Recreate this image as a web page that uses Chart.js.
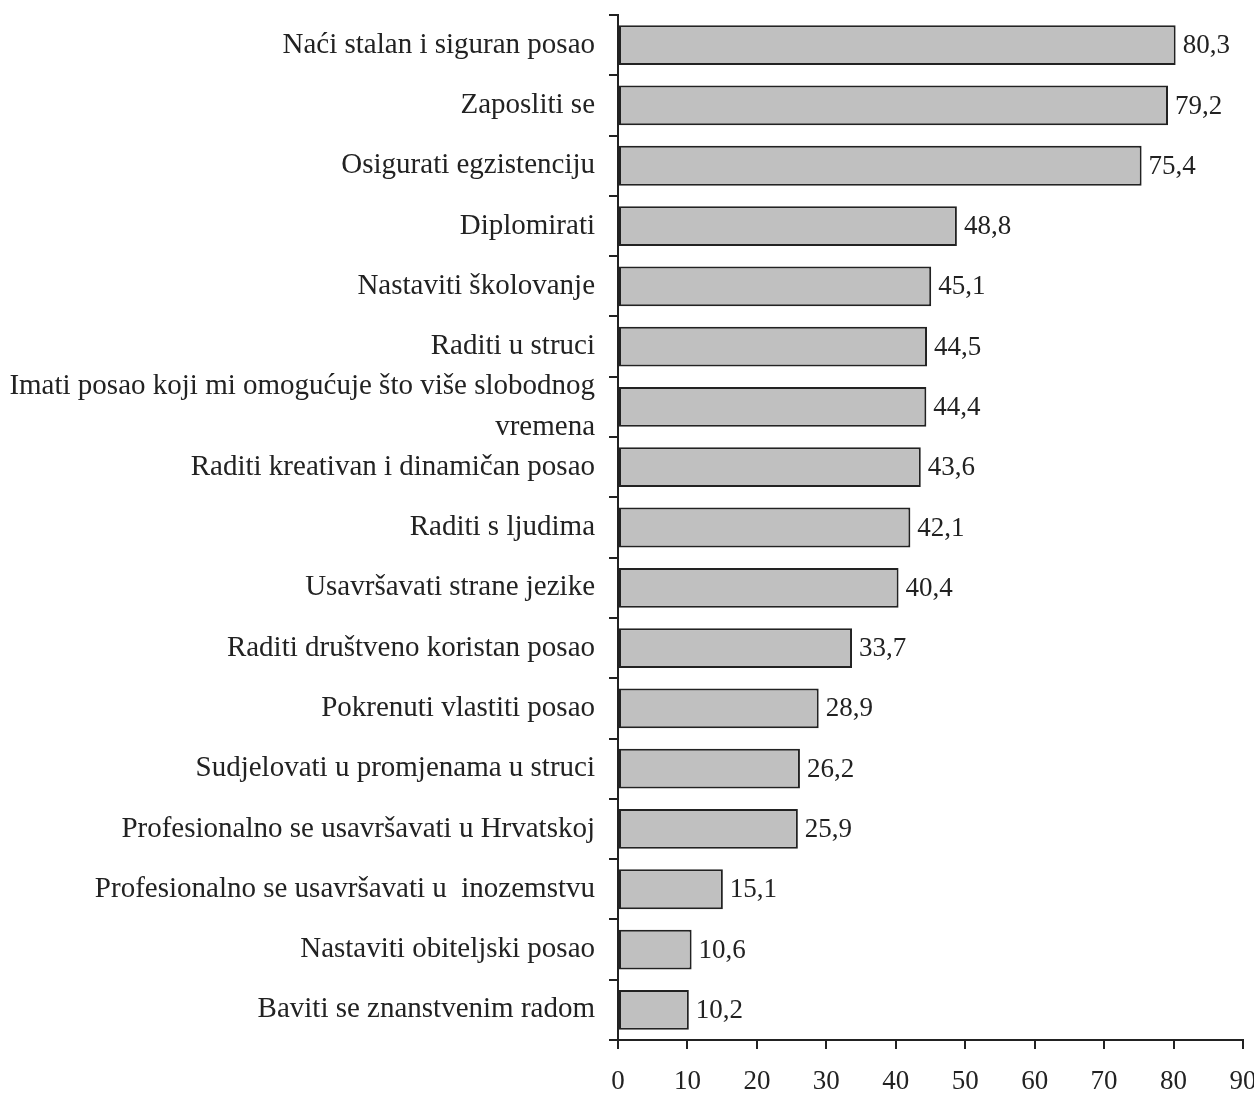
<!DOCTYPE html>
<html>
<head>
<meta charset="utf-8">
<script src="https://cdn.jsdelivr.net/npm/chart.js@4.4.1/dist/chart.umd.min.js"></script>
<style>
  html, body { margin: 0; padding: 0; background: #fff; overflow: hidden; }
  #wrap { width: 1264px; height: 1094px; }
</style>
</head>
<body>
<div id="wrap"><canvas id="barChart" width="1264" height="1094"></canvas></div>
<script>
const categories = [
    "Naći stalan i siguran posao",
    "Zaposliti se",
    "Osigurati egzistenciju",
    "Diplomirati",
    "Nastaviti školovanje",
    "Raditi u struci",
    ["Imati posao koji mi omogućuje što više slobodnog", "vremena"],
    "Raditi kreativan i dinamičan posao",
    "Raditi s ljudima",
    "Usavršavati strane jezike",
    "Raditi društveno koristan posao",
    "Pokrenuti vlastiti posao",
    "Sudjelovati u promjenama u struci",
    "Profesionalno se usavršavati u Hrvatskoj",
    "Profesionalno se usavršavati u  inozemstvu",
    "Nastaviti obiteljski posao",
    "Baviti se znanstvenim radom"
];
const values = [80.3, 79.2, 75.4, 48.8, 45.1, 44.5, 44.4, 43.6, 42.1, 40.4, 33.7, 28.9, 26.2, 25.9, 15.1, 10.6, 10.2];
const xTicks = [0, 10, 20, 30, 40, 50, 60, 70, 80, 90];

const textColor = '#222';
const serif = "'Liberation Serif', 'Times New Roman', serif";

// value labels right of each bar, with comma decimals
const valueLabels = {
    id: 'valueLabels',
    afterDatasetsDraw(chart) {
        const ctx = chart.ctx;
        const meta = chart.getDatasetMeta(0);
        ctx.save();
        ctx.font = "27px " + serif;
        ctx.fillStyle = textColor;
        ctx.textAlign = 'left';
        ctx.textBaseline = 'middle';
        meta.data.forEach(function(bar, i) {
            ctx.fillText(values[i].toFixed(1).replace('.', ','), bar.x + 7, bar.y + 1);
        });
        ctx.restore();
    }
};

var ctx = document.getElementById('barChart').getContext('2d');
var barChart = new Chart(ctx, {
    type: 'bar',
    data: {
        labels: categories,
        datasets: [{
            data: values,
            backgroundColor: '#c0c0c0',
            borderColor: '#222',
            borderWidth: 2,
            borderSkipped: false,
            barPercentage: 0.66,
            categoryPercentage: 1
        }]
    },
    options: {
        indexAxis: 'y',
        responsive: false,
        devicePixelRatio: 1,
        animation: false,
        layout: {
            padding: { top: 15, right: 21, bottom: 0, left: 0 }
        },
        plugins: {
            legend: { display: false },
            tooltip: { enabled: false }
        },
        scales: {
            x: {
                min: 0,
                max: 90,
                afterBuildTicks: function(scale) {
                    scale.ticks = xTicks.map(v => ({ value: v }));
                },
                afterFit: function(scale) {
                    scale.height = 54;
                    scale.paddingLeft = 0;
                    scale.paddingRight = 0;
                },
                grid: {
                    drawOnChartArea: false,
                    drawTicks: true,
                    tickLength: 9,
                    color: '#222',
                    lineWidth: 2
                },
                border: { display: true, color: '#222', width: 2 },
                ticks: {
                    color: textColor,
                    padding: 17,
                    maxRotation: 0,
                    autoSkip: false,
                    font: { family: serif, size: 27 }
                }
            },
            y: {
                afterFit: function(scale) {
                    scale.width = 618;
                    scale.paddingTop = 0;
                    scale.paddingBottom = 0;
                },
                grid: {
                    drawOnChartArea: false,
                    drawTicks: true,
                    tickLength: 9,
                    color: '#222',
                    lineWidth: 2,
                    offset: true
                },
                border: { display: true, color: '#222', width: 2 },
                ticks: {
                    color: textColor,
                    padding: 14,
                    autoSkip: false,
                    font: { family: serif, size: 29, lineHeight: 1.41 }
                }
            }
        }
    },
    plugins: [valueLabels]
});
</script>
</body>
</html>
